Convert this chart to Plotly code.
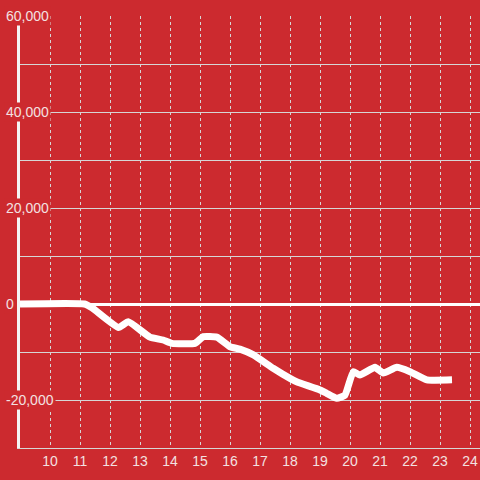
import plotly.graph_objects as go

hours = [9.0, 11.15, 11.4, 12.28, 12.61, 13.33, 13.77, 14.06, 14.83, 15.11, 15.56, 16.0, 16.33,
         16.78, 17.44, 18.0, 18.22, 19.0, 19.22, 19.56, 19.83, 20.11, 20.33, 20.83, 21.11,
         21.56, 22.0, 22.56, 23.4]
values = [0, 0, -800, -4900, -3700, -6900, -7500, -8200, -8200, -6800, -6900, -8900, -9400,
          -10600, -13400, -15500, -16200, -17900, -18600, -19650, -19000, -14100, -14800, -13200, -14400,
          -13200, -14100, -15800, -15800]
x_ticks = list(range(10, 25))
y_ticks = [60000, 40000, 20000, 0, -20000]
y_labels = ["60,000", "40,000", "20,000", "0", "-20,000"]

BG = "#cc2a2f"
LABEL = "#f3e1e1"
GRID = "#d6d6d6"
FONT = "Liberation Sans, Arial, sans-serif"

fig = go.Figure()
fig.add_trace(go.Scatter(x=hours, y=values, mode="lines",
                         line=dict(color="white", width=7, shape="spline", smoothing=0.4),
                         hoverinfo="skip"))

annotations = [dict(xref="paper", yref="y", x=-16/460, y=v, text=t, showarrow=False,
                    xanchor="left", yanchor="middle", bgcolor=BG, borderpad=1,
                    font=dict(family=FONT, size=14, color=LABEL))
               for v, t in zip(y_ticks, y_labels)]

fig.update_layout(
    width=480, height=480,
    margin=dict(l=20, r=0, t=16, b=32, autoexpand=False),
    paper_bgcolor=BG, plot_bgcolor=BG,
    showlegend=False,
    font=dict(family=FONT, size=14, color=LABEL),
    annotations=annotations,
    xaxis=dict(range=[9, 24.3333], tickvals=x_ticks, ticktext=[str(v) for v in x_ticks],
               showgrid=True, gridcolor=GRID, gridwidth=1, griddash="dot",
               showline=True, linecolor=GRID, linewidth=1, zeroline=False,
               ticks="", tickfont=dict(family=FONT, size=14, color=LABEL), automargin=False),
    yaxis=dict(range=[-30000, 60000], tickvals=[-30000, -20000, -10000, 0, 10000, 20000, 30000, 40000, 50000, 60000],
               showticklabels=False, showgrid=True, gridcolor=GRID, gridwidth=1,
               zeroline=True, zerolinecolor="white", zerolinewidth=3,
               showline=True, linecolor="#f4f4f4", linewidth=3, ticks="", automargin=False),
)

fig.write_html("out.html", config={"displayModeBar": False},
               post_script="document.body.style.margin='0';")
